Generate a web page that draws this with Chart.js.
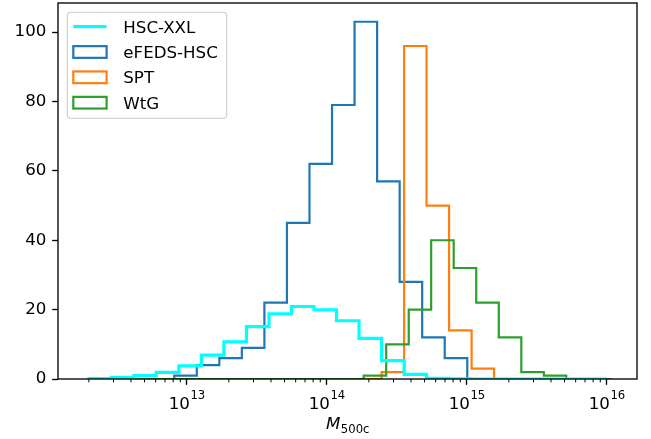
<!DOCTYPE html>
<html><head><meta charset="utf-8">
<script src="https://cdn.jsdelivr.net/npm/chart.js@4/dist/chart.umd.min.js"></script>
<style>html,body{margin:0;padding:0;background:#fff;}</style>
</head><body>
<canvas id="c" width="651" height="439" style="width:651px;height:439px;display:block"></canvas>
<script>
// ---- data ----
const seriesLabels = ['HSC-XXL', 'eFEDS-HSC', 'SPT', 'WtG'];
const seriesColors = ['#00ffff', '#1f77b4', '#ff7f0e', '#2ca02c'];

// bin edges as log10(M500c)
const hscEdgesLog = [12.301, 12.462, 12.623, 12.783, 12.944, 13.105, 13.266, 13.427, 13.588, 13.748,
  13.909, 14.070, 14.231, 14.392, 14.553, 14.713, 14.874, 15.035, 15.196, 15.357, 15.518, 15.678, 15.839, 16.000];
const efedsEdgesLog = [12.911, 13.072, 13.233, 13.394, 13.555, 13.716, 13.877, 14.038, 14.199, 14.360,
  14.521, 14.682, 14.843, 15.004];
const sptEdgesLog = [12.301, 12.462, 12.623, 12.783, 12.944, 13.105, 13.266, 13.427, 13.588, 13.748,
  13.909, 14.070, 14.231, 14.392, 14.553, 14.713, 14.874, 15.035, 15.196, 15.357, 15.518, 15.678, 15.839, 16.000];
const wtgEdgesLog = [12.334, 12.495, 12.656, 12.816, 12.977, 13.138, 13.299, 13.460, 13.621, 13.781,
  13.942, 14.103, 14.264, 14.425, 14.586, 14.746, 14.907, 15.068, 15.229, 15.390, 15.551, 15.711, 15.872, 16.033];

// counts per bin
const hscXXLCounts = [0.1, 0.5, 1.0, 1.9, 3.8, 6.9, 10.7, 15.1, 18.8, 20.9, 19.9, 16.8, 11.7, 5.3, 1.35, 0.2, 0.05, 0, 0, 0, 0, 0, 0];
const efedsCounts = [1, 4, 6, 9, 22, 45, 62, 79, 103, 57, 28, 12, 6];
const sptCounts = [0, 0, 0, 0, 0, 0, 0, 0, 0, 0, 0, 0, 0, 2, 96, 50, 14, 3, 0, 0, 0, 0, 0];
const wtgCounts = [0, 0, 0, 0, 0, 0, 0, 0, 0, 0, 0, 0, 1, 10, 20, 40, 32, 22, 12, 2, 1, 0, 0];

// axis ticks
const xTickValues = [1e13, 1e14, 1e15, 1e16];
const xTickExponents = ['13', '14', '15', '16'];
const yTickValues = [0, 20, 40, 60, 80, 100];
const xMinorMantissas = [2, 3, 4, 5, 6, 7, 8, 9];
const xAxisTitleMain = 'M';
const xAxisTitleSub = '500c';

// ---- helpers ----
function stepPoints(edgesLog, counts) {
  const pts = [{x: Math.pow(10, edgesLog[0]), y: 0}];
  for (let i = 0; i < counts.length; i++) pts.push({x: Math.pow(10, edgesLog[i]), y: counts[i]});
  pts.push({x: Math.pow(10, edgesLog[counts.length]), y: 0});
  return pts;
}

const FONT = 'DejaVu Sans';
const FS = 16.67;
Chart.defaults.font.family = FONT;

const extras = {
  id: 'extras',
  afterDatasetsDraw(chart) {
    const ctx = chart.ctx, ca = chart.chartArea, xs = chart.scales.x;
    ctx.save();
    // minor ticks
    ctx.strokeStyle = '#000'; ctx.lineWidth = 1;
    for (let n = 12; n <= 16; n++) {
      for (const m of xMinorMantissas) {
        const v = m * Math.pow(10, n);
        if (v < xs.min || v > xs.max) continue;
        const px = xs.getPixelForValue(v);
        ctx.beginPath(); ctx.moveTo(px, ca.bottom); ctx.lineTo(px, ca.bottom + 3.33); ctx.stroke();
      }
    }
    // frame
    ctx.lineWidth = 1.33; ctx.lineJoin = 'miter';
    ctx.strokeRect(ca.left, ca.top, ca.right - ca.left, ca.bottom - ca.top);

    // x tick labels 10^n
    ctx.fillStyle = '#000'; ctx.textBaseline = 'alphabetic'; ctx.textAlign = 'left';
    xs.ticks.forEach((t, i) => {
      const px = xs.getPixelForValue(t.value);
      const exp = xTickExponents[xTickValues.indexOf(t.value)];
      ctx.font = FS + 'px ' + FONT;
      const w1 = ctx.measureText('10').width;
      ctx.font = (FS * 0.7) + 'px ' + FONT;
      const w2 = ctx.measureText(exp).width;
      const x0 = px - (w1 + w2) / 2;
      ctx.font = FS + 'px ' + FONT;
      ctx.fillText('10', x0, 409);
      ctx.font = (FS * 0.7) + 'px ' + FONT;
      ctx.fillText(exp, x0 + w1 + 0.5, 399);
    });

    // x axis title
    ctx.font = 'italic ' + FS + 'px ' + FONT;
    const wm = ctx.measureText(xAxisTitleMain).width;
    ctx.font = (FS * 0.7) + 'px ' + FONT;
    const ws = ctx.measureText(xAxisTitleSub).width;
    const cx = (ca.left + ca.right) / 2;
    const tx = cx - (wm + ws) / 2;
    ctx.font = 'italic ' + FS + 'px ' + FONT;
    ctx.fillText(xAxisTitleMain, tx, 429);
    ctx.font = (FS * 0.7) + 'px ' + FONT;
    ctx.fillText(xAxisTitleSub, tx + wm + 0.5, 432.5);

    // legend
    const lx = 67.3, ly = 12.3, lw = 159.4, lh = 106;
    ctx.beginPath();
    if (ctx.roundRect) ctx.roundRect(lx, ly, lw, lh, 3.5); else ctx.rect(lx, ly, lw, lh);
    ctx.fillStyle = 'rgba(255,255,255,0.8)'; ctx.fill();
    ctx.strokeStyle = '#cccccc'; ctx.lineWidth = 1.1; ctx.stroke();
    const rows = [26.7, 52.0, 77.3, 102.7];
    chart.data.datasets.forEach((ds, i) => {
      const cy = rows[i];
      ctx.strokeStyle = ds.borderColor;
      if (i === 0) {
        ctx.lineWidth = ds.borderWidth;
        ctx.beginPath(); ctx.moveTo(73.3, cy); ctx.lineTo(106.6, cy); ctx.stroke();
      } else {
        ctx.lineWidth = ds.borderWidth;
        ctx.strokeRect(73.3, cy - 5.85, 33.3, 11.7);
      }
      ctx.fillStyle = '#000';
      ctx.font = FS + 'px ' + FONT;
      ctx.fillText(ds.label, 123.3, cy + 6.1);
    });
    ctx.restore();
  }
};

new Chart(document.getElementById('c'), {
  type: 'line',
  data: {
    datasets: [
      {label: seriesLabels[0], data: stepPoints(hscEdgesLog, hscXXLCounts), borderColor: seriesColors[0], borderWidth: 3.2, order: 0},
      {label: seriesLabels[1], data: stepPoints(efedsEdgesLog, efedsCounts), borderColor: seriesColors[1], borderWidth: 2.2, order: 3},
      {label: seriesLabels[2], data: stepPoints(sptEdgesLog, sptCounts), borderColor: seriesColors[2], borderWidth: 2.2, order: 2},
      {label: seriesLabels[3], data: stepPoints(wtgEdgesLog, wtgCounts), borderColor: seriesColors[3], borderWidth: 2.2, order: 1}
    ].map(d => Object.assign(d, {stepped: true, fill: false, pointRadius: 0, tension: 0, borderJoinStyle: 'miter', borderCapStyle: 'butt'}))
  },
  options: {
    responsive: false, animation: false, devicePixelRatio: 1,
    layout: {padding: {top: 3, right: 14, left: 0, bottom: 0}},
    plugins: {legend: {display: false}, tooltip: {enabled: false}},
    scales: {
      x: {
        type: 'logarithmic', min: Math.pow(10, 12.0807), max: Math.pow(10, 16.2164),
        afterBuildTicks: s => { s.ticks = xTickValues.map(v => ({value: v})); },
        afterFit: s => { s.height = 60; s.paddingLeft = 0; s.paddingRight = 0; },
        grid: {drawOnChartArea: false, drawTicks: true, tickLength: 5.83, tickWidth: 1.33, tickColor: '#000'},
        border: {display: false},
        ticks: {display: false}
      },
      y: {
        type: 'linear', min: 0, max: 108.4,
        afterBuildTicks: s => { s.ticks = yTickValues.map(v => ({value: v})); },
        afterFit: s => { s.width = 58; s.paddingTop = 0; s.paddingBottom = 0; },
        grid: {drawOnChartArea: false, drawTicks: true, tickLength: 5.83, tickWidth: 1.33, tickColor: '#000'},
        border: {display: false},
        ticks: {color: '#000', font: {size: FS, family: FONT}, padding: 5.8, callback: v => String(v)}
      }
    }
  },
  plugins: [extras]
});
</script>
</body></html>
